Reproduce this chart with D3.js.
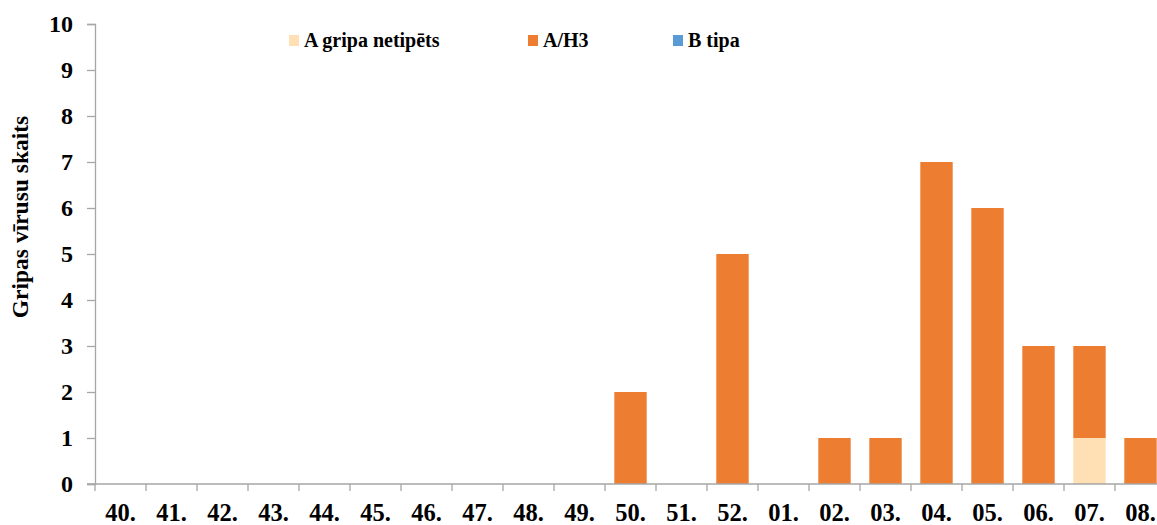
<!DOCTYPE html>
<html>
<head>
<meta charset="utf-8">
<script src="https://cdn.jsdelivr.net/npm/d3@7"></script>
<style>
  html, body { margin: 0; padding: 0; background: #ffffff; }
  svg { display: block; }
</style>
</head>
<body>
<svg id="chart" width="1157" height="525"></svg>
<script>
// Weeks of the season
const weeks = ["40.", "41.", "42.", "43.", "44.", "45.", "46.", "47.", "48.", "49.",
               "50.", "51.", "52.", "01.", "02.", "03.", "04.", "05.", "06.", "07.", "08."];

// Virus counts per week, one array per series
const aUntyped = [0, 0, 0, 0, 0, 0, 0, 0, 0, 0, 0, 0, 0, 0, 0, 0, 0, 0, 0, 1, 0];
const aH3      = [0, 0, 0, 0, 0, 0, 0, 0, 0, 0, 2, 0, 5, 0, 1, 1, 7, 6, 3, 2, 1];
const bType    = [0, 0, 0, 0, 0, 0, 0, 0, 0, 0, 0, 0, 0, 0, 0, 0, 0, 0, 0, 0, 0];

const seriesNames  = ["A gripa netipēts", "A/H3", "B tipa"];
const seriesColors = ["#FFE0B5", "#ED7D31", "#5B9BD5"];
const yTicks = [0, 1, 2, 3, 4, 5, 6, 7, 8, 9, 10];
const yTitle = "Gripas vīrusu skaits";

const FONT = '"Liberation Serif", "Times New Roman", Tinos';

const rows = weeks.map((w, i) => ({
  week: w,
  [seriesNames[0]]: aUntyped[i],
  [seriesNames[1]]: aH3[i],
  [seriesNames[2]]: bType[i]
}));

const svg = d3.select("#chart");
const plotLeft = 95, plotBottom = 484, plotTop = 24;
const band = 51;

const x = d3.scaleBand()
  .domain(weeks)
  .range([plotLeft, plotLeft + band * weeks.length])
  .paddingInner(0.365)
  .paddingOuter(0.1825);

const y = d3.scaleLinear().domain([0, 10]).range([plotBottom, plotTop]);

const layers = d3.stack().keys(seriesNames)(rows);

// Bars
svg.append("g")
  .selectAll("g")
  .data(layers)
  .join("g")
  .attr("fill", (d, i) => seriesColors[i])
  .selectAll("rect")
  .data(d => d.filter(p => p[1] - p[0] > 0))
  .join("rect")
  .attr("x", d => x(d.data.week))
  .attr("y", d => y(d[1]))
  .attr("width", x.bandwidth())
  .attr("height", d => y(d[0]) - y(d[1]));

const axisColor = "#a6a6a6";

// Y axis
const yAxis = svg.append("g")
  .attr("transform", `translate(${plotLeft},0)`)
  .call(d3.axisLeft(y).tickValues(yTicks).tickSize(8).tickPadding(14).tickFormat(d3.format("d")));
yAxis.select(".domain").attr("stroke", axisColor).attr("stroke-width", 1.3);
yAxis.selectAll(".tick line").attr("stroke", axisColor).attr("stroke-width", 1.3);
yAxis.selectAll(".tick text")
  .attr("fill", "#000")
  .style("font-size", "24px")
  .style("font-family", FONT)
  .style("font-weight", "bold");

// X axis: ticks sit on band boundaries
const xAxisG = svg.append("g").attr("transform", `translate(0,${plotBottom})`);
xAxisG.append("line")
  .attr("x1", plotLeft - 8).attr("x2", plotLeft + band * weeks.length)
  .attr("y1", 0).attr("y2", 0)
  .attr("stroke", axisColor).attr("stroke-width", 1.3);
const boundaries = d3.range(weeks.length + 1).map(i => x.range()[0] + i * x.step());
xAxisG.selectAll("line.sep")
  .data(boundaries)
  .join("line")
  .attr("class", "sep")
  .attr("x1", d => d).attr("x2", d => d)
  .attr("y1", 0).attr("y2", 7)
  .attr("stroke", axisColor).attr("stroke-width", 1.3);
xAxisG.selectAll("text")
  .data(weeks)
  .join("text")
  .attr("x", d => x(d) + x.bandwidth() / 2)
  .attr("y", 37)
  .attr("text-anchor", "middle")
  .style("font-family", FONT)
  .style("font-weight", "bold")
  .style("font-size", "24.5px")
  .text(d => d);

// Y axis title
svg.append("text")
  .attr("transform", "translate(28,217) rotate(-90)")
  .attr("text-anchor", "middle")
  .style("font-family", FONT)
  .style("font-weight", "bold")
  .style("font-size", "23.5px")
  .text(yTitle);

// Legend
const legendX = [289, 528, 673];
const legend = svg.append("g")
  .selectAll("g")
  .data(seriesNames)
  .join("g")
  .attr("transform", (d, i) => `translate(${legendX[i]},35)`);
legend.append("rect")
  .attr("width", 10).attr("height", 11)
  .attr("fill", (d, i) => seriesColors[i]);
legend.append("text")
  .attr("x", 15).attr("y", 12)
  .style("font-family", FONT)
  .style("font-weight", "bold")
  .style("font-size", "20px")
  .text(d => d);
</script>
</body>
</html>
